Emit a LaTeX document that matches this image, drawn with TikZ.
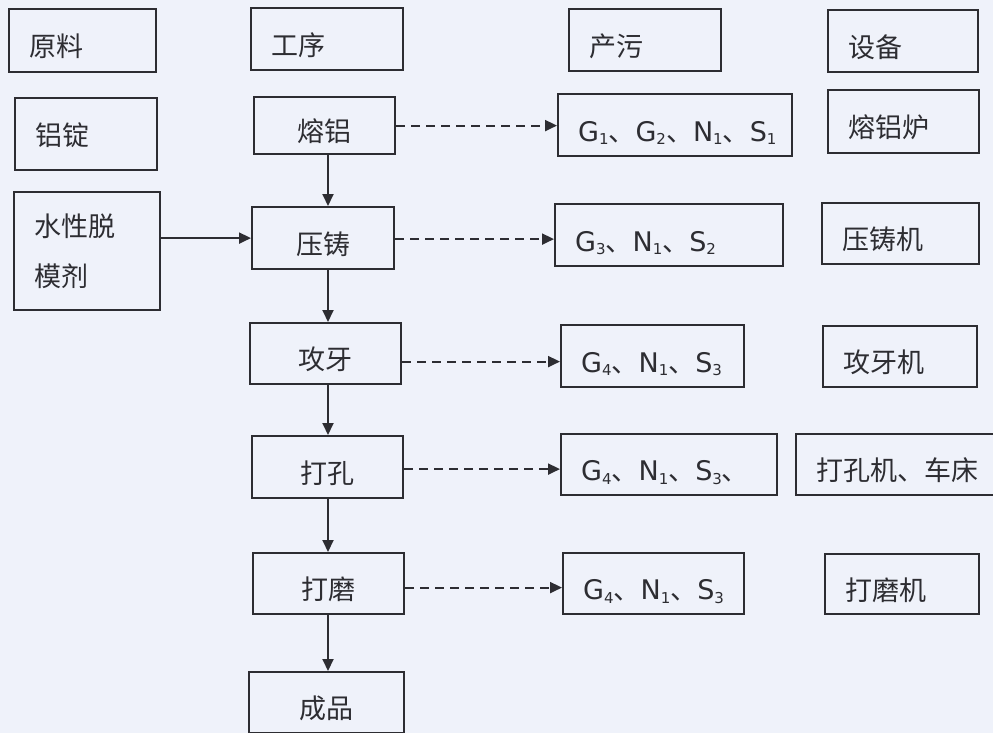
\documentclass[tikz,border=0pt]{standalone}
\usepackage{fontspec}
\setmainfont{Noto Sans CJK SC}
\newfontfamily\lat{DejaVu Sans}
\usetikzlibrary{arrows.meta}
\definecolor{bg}{RGB}{239,242,250}
\definecolor{ink}{RGB}{45,45,50}
\newcommand\pl[2]{{\lat #1\raisebox{-0.25ex}{\fontsize{15}{15}\selectfont #2}}}
\tikzset{
  box/.style={draw=ink, line width=2.2pt, anchor=north west, inner xsep=20pt, inner ysep=0pt,
    align=left, font=\fontsize{27}{33}\selectfont, text=ink, text height=32pt, text depth=0pt},
  pbox/.style={box, align=center, inner xsep=0pt},
  flow/.style={draw=ink, line width=2pt, -{Triangle[length=12pt,width=11pt]}},
  emit/.style={flow, dash pattern=on 9pt off 6pt},
}
\begin{document}
\begin{tikzpicture}[x=1pt,y=1pt]
\useasboundingbox[fill=bg] (0,0) rectangle (993,-733);
% header row
\node[box, text width=107pt, minimum height=63pt] (hyl) at (8,-8) {原料};
\node[box, text width=112pt, minimum height=62pt] (hgx) at (250,-7) {工序};
\node[box, text width=112pt, minimum height=62pt] (hcw) at (568,-8) {产污};
\node[box, text width=110pt, minimum height=62pt] (hsb) at (827,-9) {设备};
% raw materials
\node[box, text width=102pt, minimum height=72pt, text height=22pt] (lz) at (14,-97) {铝锭};
\node[box, text width=106pt, minimum height=118pt, text height=, text depth=, font=\fontsize{27}{50}\selectfont] (sx) at (13,-191) {水性脱\\模剂};
% processes
\node[pbox, minimum width=141pt, minimum height=57pt] (rl) at (253,-96) {熔铝};
\node[pbox, minimum width=142pt, minimum height=62pt] (yz) at (251,-206) {压铸};
\node[pbox, minimum width=151pt, minimum height=61pt] (gy) at (249,-322) {攻牙};
\node[pbox, minimum width=151pt, minimum height=62pt] (dk) at (251,-435) {打孔};
\node[pbox, minimum width=151pt, minimum height=61pt] (dm) at (252,-552) {打磨};
\node[pbox, minimum width=155pt, minimum height=61pt] (cp) at (248,-671) {成品};
% pollutants
\node[box, text width=194pt, minimum height=62pt] (p1) at (557,-93) {\pl{G}{1}、\pl{G}{2}、\pl{N}{1}、\pl{S}{1}};
\node[box, text width=188pt, minimum height=62pt] (p2) at (554,-203) {\pl{G}{3}、\pl{N}{1}、\pl{S}{2}};
\node[box, text width=143pt, minimum height=62pt] (p3) at (560,-324) {\pl{G}{4}、\pl{N}{1}、\pl{S}{3}};
\node[box, text width=176pt, minimum height=61pt] (p4) at (560,-433) {\pl{G}{4}、\pl{N}{1}、\pl{S}{3}、};
\node[box, text width=141pt, minimum height=61pt] (p5) at (562,-552) {\pl{G}{4}、\pl{N}{1}、\pl{S}{3}};
% equipment
\node[box, text width=111pt, minimum height=63pt] (e1) at (827,-89) {熔铝炉};
\node[box, text width=117pt, minimum height=61pt] (e2) at (821,-202) {压铸机};
\node[box, text width=114pt, minimum height=61pt] (e3) at (822,-325) {攻牙机};
\node[box, text width=180pt, minimum height=61pt] (e4) at (795,-433) {打孔机、车床};
\node[box, text width=114pt, minimum height=60pt] (e5) at (824,-553) {打磨机};
% main flow
\coordinate (ax) at (328,0);
\draw[flow] (ax |- rl.south) -- (ax |- yz.north);
\draw[flow] (ax |- yz.south) -- (ax |- gy.north);
\draw[flow] (ax |- gy.south) -- (ax |- dk.north);
\draw[flow] (ax |- dk.south) -- (ax |- dm.north);
\draw[flow] (ax |- dm.south) -- (ax |- cp.north);
\draw[flow] (sx.east |- yz.west) -- (yz.west);
% emissions
\draw[emit] (rl.east) -- (rl.east -| p1.west);
\draw[emit] ([yshift=-1pt]yz.east) -- ([yshift=-1pt]yz.east -| p2.west);
\draw[emit] ([yshift=-8pt]gy.east) -- ([yshift=-8pt]gy.east -| p3.west);
\draw[emit] ([yshift=-2pt]dk.east) -- ([yshift=-2pt]dk.east -| p4.west);
\draw[emit] ([yshift=-4pt]dm.east) -- ([yshift=-4pt]dm.east -| p5.west);
\end{tikzpicture}
\end{document}
